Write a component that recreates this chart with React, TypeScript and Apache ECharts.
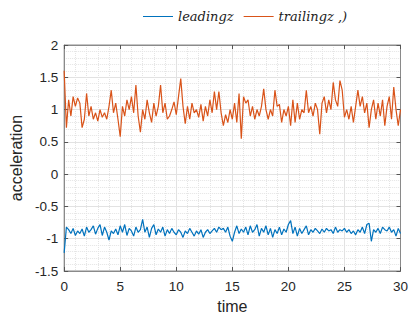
import React, { useEffect, useRef } from "react";
import * as echarts from "echarts";

const dt = 0.2;

const leadingz: number[] = [
  -1.22, -0.82, -0.86, -0.92, -0.84, -0.95, -0.88, -0.92, -0.85, -0.96,
  -0.82, -0.9, -0.86, -0.8, -0.93, -0.84, -0.78, -0.95, -0.82, -0.9,
  -1.02, -0.88, -0.92, -0.85, -0.94, -0.8, -0.9, -0.78, -0.95, -0.84,
  -0.88, -0.96, -0.82, -0.9, -0.86, -0.7, -0.9, -0.82, -0.98, -0.84,
  -0.78, -0.94, -0.85, -0.9, -0.82, -0.96, -0.86, -0.92, -0.84, -0.9,
  -0.94, -0.86, -0.9, -0.98, -0.88, -0.92, -0.84, -0.9, -0.96, -0.88,
  -0.93, -0.86, -0.98, -0.9, -0.86, -0.92, -0.88, -0.84, -0.9, -0.82,
  -0.86, -0.84, -0.9, -0.82, -0.96, -1.04, -0.9, -0.8, -0.92, -0.85,
  -0.9, -0.82, -0.94, -0.8, -0.9, -0.86, -0.78, -0.96, -0.84, -0.9,
  -0.8, -0.94, -0.84, -0.98, -0.86, -0.92, -0.82, -0.94, -0.85, -0.9,
  -0.78, -0.72, -0.92, -0.82, -0.96, -0.84, -0.92, -0.86, -0.8, -0.94,
  -0.86, -0.9, -0.84, -0.88, -0.92, -0.85, -0.9, -0.84, -0.88, -0.86,
  -0.92, -0.82, -0.9, -0.86, -0.88, -0.84, -0.9, -0.86, -0.92, -0.88,
  -0.94, -0.86, -0.9, -0.82, -0.92, -0.78, -0.76, -1.04, -0.86, -0.9,
  -0.84, -0.92, -0.82, -0.86, -0.88, -0.82, -0.9, -0.86, -0.96, -0.84,
  -0.92,
];

const trailingz: number[] = [
  1.6, 0.72, 1.15, 0.9, 1.2, 1.05, 1.18, 1.1, 0.72, 0.85,
  1.25, 0.9, 1.05, 0.85, 0.95, 0.82, 1.0, 0.88, 0.95, 0.85,
  1.05, 1.3, 0.95, 1.1, 0.85, 0.58, 1.05, 0.9, 1.15, 1.0,
  1.2, 0.95, 1.38, 0.9, 0.65, 1.0, 0.85, 1.15, 0.95, 0.8,
  1.1, 0.9, 1.05, 1.38, 0.95, 1.1, 0.85, 0.9, 1.0, 1.12,
  0.92, 1.2, 1.48, 1.05, 0.78, 1.05, 0.85, 1.1, 0.95, 1.0,
  0.88, 1.08, 0.82, 1.05, 0.9, 1.15, 0.95, 1.28, 1.0, 1.28,
  0.95, 0.75, 0.92, 0.8, 1.0, 0.85, 1.1, 0.8, 1.25, 0.55,
  1.2, 1.1, 1.15, 0.9, 1.05, 0.85, 1.0, 0.9, 1.05, 1.32,
  1.0, 0.85, 1.0, 0.9, 1.3, 1.05, 1.08, 0.8, 1.0, 0.9,
  1.05, 0.75, 1.15, 0.8, 1.1, 0.85, 1.0, 0.95, 1.3, 0.95,
  1.05, 0.9, 1.1, 1.0, 0.62, 1.1, 1.2, 0.95, 1.15, 1.0,
  1.42, 1.15, 1.05, 1.45, 1.3, 0.88, 1.0, 0.85, 1.05, 0.8,
  1.05, 1.3, 1.05, 1.2, 0.95, 1.1, 0.72, 1.0, 1.15, 0.85,
  1.1, 0.9, 1.15, 0.75, 1.05, 1.2, 0.85, 1.35, 1.0, 0.75,
  1.0,
];

const xTicks = { min: 0, max: 30, interval: 5 };
const yTicks = { min: -1.5, max: 2, interval: 0.5 };

const toPairs = (vals: number[]) =>
  vals.map((v, i) => [Math.round(i * dt * 100) / 100, v]);

export default function App() {
  const ref = useRef<HTMLDivElement>(null);
  useEffect(() => {
    if (!ref.current) return;
    const chart = echarts.init(ref.current, undefined, { renderer: "svg" });
    const tickFont = { fontFamily: "Liberation Sans, Arial, sans-serif", fontSize: 13.5, color: "#262626" };
    const axisLine = { show: true, onZero: false, lineStyle: { color: "#8a8a8a", width: 1 } };
    const axisTick = { show: true, inside: true, length: 4, lineStyle: { color: "#555" } };
    chart.setOption({
      animation: false,
      backgroundColor: "#ffffff",
      grid: { left: 63, right: 8, top: 45, bottom: 49, show: true, borderColor: "#8a8a8a", borderWidth: 1 },
      legend: {
        top: 5,
        left: 138,
        itemWidth: 30,
        itemHeight: 10,
        itemGap: 10,
        textStyle: { fontFamily: "DejaVu Serif, Liberation Serif, serif", fontStyle: "italic", fontSize: 13, color: "#222" },
        data: [
          { name: "leadingz", icon: "path://M0,5 L30,5 L30,6 L0,6 Z" },
          { name: "trailingz ,)", icon: "path://M0,5 L30,5 L30,6 L0,6 Z" },
        ],
      },
      xAxis: [
        {
          type: "value",
          min: xTicks.min,
          max: xTicks.max,
          interval: xTicks.interval,
          name: "time",
          nameLocation: "middle",
          nameGap: 27,
          nameTextStyle: { fontFamily: "Liberation Sans, Arial, sans-serif", fontSize: 16, color: "#262626" },
          axisLine,
          axisTick,
          axisLabel: { ...tickFont, margin: 8 },
          splitLine: { show: true, lineStyle: { color: "#e2e2e2", type: "solid" } },
          minorTick: { show: true, splitNumber: 5, length: 0 },
          minorSplitLine: { show: true, lineStyle: { color: "#e4e4e4", type: "dotted" } },
        },
        {
          type: "value",
          position: "top",
          min: xTicks.min,
          max: xTicks.max,
          interval: xTicks.interval,
          axisLine,
          axisTick,
          axisLabel: { show: false },
          splitLine: { show: false },
        },
      ],
      yAxis: [
        {
          type: "value",
          min: yTicks.min,
          max: yTicks.max,
          interval: yTicks.interval,
          name: "acceleration",
          nameLocation: "middle",
          nameGap: 30,
          nameTextStyle: { fontFamily: "Liberation Sans, Arial, sans-serif", fontSize: 16, color: "#262626" },
          axisLine,
          axisTick,
          axisLabel: { ...tickFont, margin: 6 },
          splitLine: { show: true, lineStyle: { color: "#e2e2e2", type: "solid" } },
          minorTick: { show: true, splitNumber: 5, length: 0 },
          minorSplitLine: { show: true, lineStyle: { color: "#e4e4e4", type: "dotted" } },
        },
        {
          type: "value",
          position: "right",
          min: yTicks.min,
          max: yTicks.max,
          interval: yTicks.interval,
          axisLine,
          axisTick,
          axisLabel: { show: false },
          splitLine: { show: false },
        },
      ],
      series: [
        {
          name: "leadingz",
          type: "line",
          data: toPairs(leadingz),
          symbol: "none",
          color: "#0072BD",
          lineStyle: { width: 1.2, color: "#0072BD" },
        },
        {
          name: "trailingz ,)",
          type: "line",
          data: toPairs(trailingz),
          symbol: "none",
          color: "#D95319",
          lineStyle: { width: 1.2, color: "#D95319" },
        },
      ],
    });
    return () => chart.dispose();
  }, []);
  return <div ref={ref} style={{ width: 411, height: 320, position: "absolute", left: 0, top: 0 }} />;
}
